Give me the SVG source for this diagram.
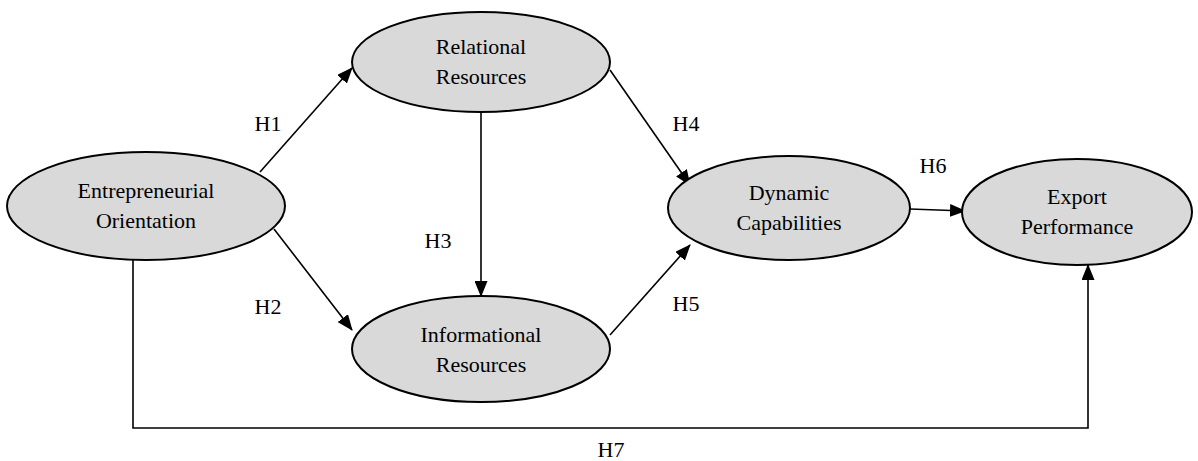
<svg xmlns="http://www.w3.org/2000/svg" width="1198" height="461" viewBox="0 0 1198 461">
<style>
.node{fill:#d9d9d9;stroke:#000;stroke-width:2}
.t{font-family:"Liberation Serif","Times New Roman",serif;font-size:22px;fill:#000;text-anchor:middle}
.c{fill:none;stroke:#000;stroke-width:1.6}
</style>
<defs>
<marker id="ah" viewBox="0 0 16 13" refX="15" refY="6.5" markerWidth="16" markerHeight="13" markerUnits="userSpaceOnUse" orient="auto">
<path d="M0,0 L16,6.5 L0,13 z" fill="#000"/>
</marker>
</defs>
<rect width="1198" height="461" fill="#fff"/>
<g id="connectors">
<line class="c" x1="260" y1="172" x2="352" y2="68" marker-end="url(#ah)"/>
<line class="c" x1="274" y1="229" x2="352" y2="330" marker-end="url(#ah)"/>
<line class="c" x1="481" y1="113" x2="481" y2="296" marker-end="url(#ah)"/>
<line class="c" x1="610" y1="70" x2="690" y2="185" marker-end="url(#ah)"/>
<line class="c" x1="610" y1="335" x2="690" y2="245" marker-end="url(#ah)"/>
<line class="c" x1="910" y1="209" x2="965" y2="211" marker-end="url(#ah)"/>
<polyline class="c" points="133,258 133,428 1088,428 1088,265" marker-end="url(#ah)"/>
<text class="t" x="268" y="131">H1</text>
<text class="t" x="268" y="314">H2</text>
<text class="t" x="438" y="248">H3</text>
<text class="t" x="686" y="131">H4</text>
<text class="t" x="686" y="311">H5</text>
<text class="t" x="933" y="173">H6</text>
<text class="t" x="611" y="457">H7</text>
</g>
<g id="entrepreneurial-orientation">
<ellipse class="node" cx="146" cy="206" rx="139" ry="54"/>
<text class="t" x="146" y="198">Entrepreneurial</text>
<text class="t" x="146" y="228">Orientation</text>
</g>
<g id="relational-resources">
<ellipse class="node" cx="481" cy="62" rx="129" ry="50"/>
<text class="t" x="481" y="54">Relational</text>
<text class="t" x="481" y="84">Resources</text>
</g>
<g id="informational-resources">
<ellipse class="node" cx="481" cy="349" rx="129" ry="53"/>
<text class="t" x="481" y="342">Informational</text>
<text class="t" x="481" y="372">Resources</text>
</g>
<g id="dynamic-capabilities">
<ellipse class="node" cx="789" cy="208" rx="121" ry="52"/>
<text class="t" x="789" y="200">Dynamic</text>
<text class="t" x="789" y="230">Capabilities</text>
</g>
<g id="export-performance">
<ellipse class="node" cx="1077" cy="212" rx="115" ry="53"/>
<text class="t" x="1077" y="204">Export</text>
<text class="t" x="1077" y="234">Performance</text>
</g>
</svg>
